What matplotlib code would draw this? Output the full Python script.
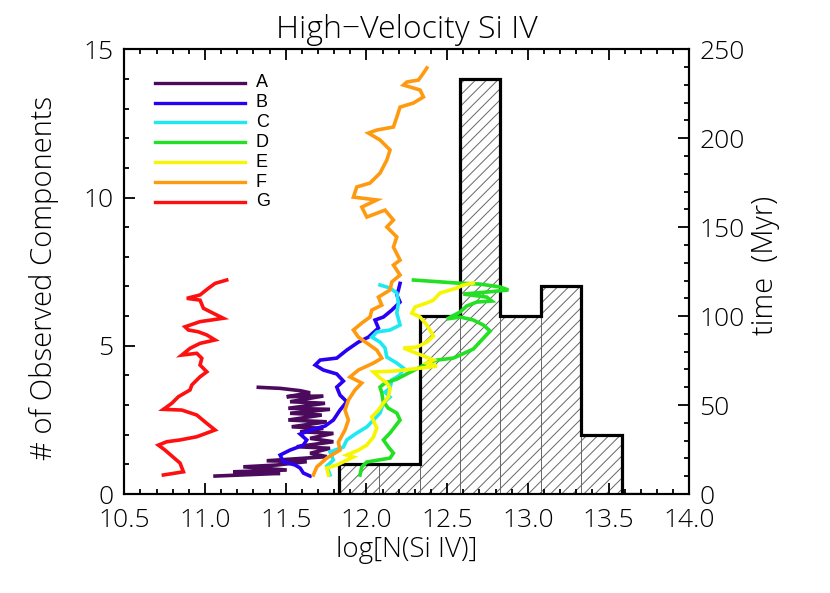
import matplotlib
matplotlib.use('Agg')
import matplotlib.pyplot as plt
from matplotlib.ticker import MultipleLocator, FormatStrFormatter
import numpy as np

# histogram of observed components
bin_edges = [11.83, 12.08, 12.33, 12.58, 12.83, 13.08, 13.33, 13.58]
counts = [1, 1, 6, 14, 6, 7, 2]

# model tracks: log N(Si IV) against time (Myr)
x_A = [11.062, 11.465, 11.175, 11.506, 11.237, 11.444, 11.630, 11.382, 11.754, 11.651,
       11.774, 11.568, 11.795, 11.651, 11.795, 11.589, 11.733, 11.537, 11.754, 11.516,
       11.723, 11.527, 11.774, 11.516, 11.743, 11.527, 11.733, 11.506, 11.651, 11.589,
       11.465, 11.330]
t_A = [10.1, 11.6, 12.5, 13.5, 15.3, 16.3, 18.2, 18.7, 21.0, 22.9,
       25.7, 26.6, 29.4, 31.3, 34.1, 35.0, 36.9, 37.8, 40.6, 41.6,
       44.4, 45.4, 47.6, 48.2, 51.0, 51.9, 55.1, 54.7, 56.9, 58.1,
       59.4, 60.0]

x_B = [11.651, 11.609, 11.589, 11.558, 11.485, 11.465, 11.527, 11.609, 11.630, 11.589,
       11.671, 11.743, 11.795, 11.836, 11.878, 11.836, 11.816, 11.857, 11.816, 11.733,
       11.682, 11.713, 11.816, 11.878, 11.950, 12.012, 12.074, 12.053, 12.105, 12.157,
       12.208, 12.188, 12.198, 12.208]
t_B = [10.1, 11.8, 14.6, 16.3, 18.2, 21.9, 24.7, 27.5, 30.4, 33.7,
       36.5, 38.2, 41.6, 47.2, 51.9, 55.6, 60.1, 63.5, 67.5, 69.7,
       72.5, 75.3, 76.4, 80.9, 85.4, 88.2, 93.3, 97.8, 99.5, 103.4,
       107.9, 111.9, 114.7, 118.4]

x_C = [11.774, 11.754, 11.795, 11.774, 11.857, 11.878, 11.940, 12.002, 12.043, 12.084,
       12.105, 12.146, 12.115, 12.146, 12.157, 12.208, 12.229, 12.188, 12.126, 12.115,
       12.084, 12.033, 12.064, 12.146, 12.208, 12.188, 12.198, 12.188, 12.146, 12.084]
t_C = [10.7, 15.7, 19.1, 23.6, 26.4, 30.4, 34.3, 37.7, 41.6, 45.5,
       51.2, 54.5, 57.3, 59.6, 64.1, 66.9, 70.8, 73.6, 77.0, 82.1,
       85.4, 88.2, 91.1, 92.2, 95.0, 101.7, 107.4, 113.0, 115.8, 117.5]

x_D = [11.960, 11.971, 12.002, 12.146, 12.167, 12.136, 12.105, 12.146, 12.208, 12.188,
       12.134, 12.103, 12.095, 12.084, 12.115, 12.188, 12.260, 12.322, 12.374, 12.436,
       12.538, 12.662, 12.714, 12.766, 12.724, 12.662, 12.580, 12.498, 12.580, 12.621,
       12.683, 12.776, 12.745, 12.600, 12.766, 12.879, 12.828, 12.704, 12.560, 12.291]
t_D = [10.7, 15.2, 18.0, 20.2, 23.0, 26.4, 30.4, 34.3, 41.6, 45.5,
       48.3, 52.3, 56.8, 60.1, 62.4, 64.6, 68.0, 70.8, 73.6, 75.3,
       76.4, 81.5, 86.6, 91.6, 95.0, 97.8, 99.5, 98.4, 102.3, 105.7,
       107.9, 108.5, 110.7, 112.4, 113.7, 114.7, 116.4, 118.0, 118.6, 120.3]

x_E = [11.764, 11.754, 11.816, 11.919, 11.878, 11.950, 12.002, 12.043, 12.064, 12.033,
       12.074, 12.105, 12.136, 12.146, 12.126, 12.084, 12.043, 12.167, 12.291, 12.436,
       12.374, 12.415, 12.353, 12.291, 12.229, 12.312, 12.374, 12.415, 12.374, 12.332,
       12.281, 12.301, 12.374, 12.415, 12.456, 12.560, 12.600, 12.662]
t_E = [10.7, 14.6, 16.3, 20.8, 21.9, 24.7, 27.5, 32.0, 37.1, 43.3,
       47.2, 51.2, 54.5, 59.6, 62.4, 65.2, 68.6, 69.1, 70.3, 71.9,
       73.6, 75.3, 77.6, 79.8, 82.1, 82.6, 85.4, 88.8, 95.0, 99.5,
       101.7, 105.1, 107.4, 109.0, 113.0, 115.8, 117.5, 118.6]

x_F = [11.671, 11.692, 11.754, 11.836, 11.826, 11.867, 11.888, 11.867, 11.888, 11.929,
       11.971, 11.898, 11.950, 12.043, 12.095, 12.064, 12.002, 11.950, 11.919, 11.971,
       12.022, 12.033, 12.095, 12.074, 12.146, 12.157, 12.208, 12.167, 12.208, 12.167,
       12.188, 12.126, 12.167, 12.115, 12.002, 11.971, 12.064, 11.919, 11.940, 12.022,
       12.084, 12.126, 12.146, 12.084, 12.012, 12.064, 12.167, 12.188, 12.208, 12.291,
       12.353, 12.332, 12.229, 12.250, 12.322, 12.353, 12.374]
t_F = [10.7, 15.2, 20.2, 24.7, 29.2, 36.0, 41.6, 47.2, 52.8, 58.5,
       62.4, 65.8, 69.7, 73.6, 76.4, 80.9, 84.9, 88.2, 92.2, 96.1,
       99.5, 103.4, 106.2, 110.7, 114.7, 119.2, 123.1, 128.7, 131.5, 138.8,
       144.5, 150.1, 154.0, 159.6, 155.7, 161.3, 165.3, 166.9, 172.6, 174.8,
       180.4, 187.7, 193.4, 199.0, 202.9, 204.6, 206.3, 211.9, 217.5, 219.8,
       223.2, 227.1, 229.9, 231.6, 232.7, 236.6, 239.5]

x_G = [10.742, 10.866, 10.845, 10.794, 10.752, 10.711, 10.763, 10.845, 10.949, 11.062,
       11.011, 10.949, 10.856, 10.742, 10.794, 10.835, 10.907, 10.918, 10.969, 11.011,
       10.969, 10.980, 10.949, 10.856, 10.907, 10.969, 11.062, 11.011, 10.958, 10.897,
       10.876, 10.969, 11.113, 11.051, 10.990, 10.969, 10.887, 10.969, 11.020, 11.062,
       11.134]
t_G = [10.7, 12.5, 17.4, 21.4, 24.7, 27.5, 29.4, 30.4, 32.2, 36.0,
       39.7, 44.4, 47.2, 47.6, 51.0, 54.7, 58.5, 61.3, 65.9, 68.7,
       72.5, 76.3, 79.1, 78.1, 81.9, 84.7, 86.6, 89.4, 91.2, 92.2,
       94.0, 96.9, 98.8, 101.6, 104.4, 109.0, 110.0, 111.9, 115.6, 118.4,
       120.3]

labels = ['A', 'B', 'C', 'D', 'E', 'F', 'G']
colors = ['#4b0a5c', '#2a00f5', '#1ee8f2', '#22e022', '#f6f600', '#ff9a10', '#ff1010']
tracks = [(x_A, t_A), (x_B, t_B), (x_C, t_C), (x_D, t_D),
          (x_E, t_E), (x_F, t_F), (x_G, t_G)]

plt.rcParams['font.family'] = ['Open Sans', 'DejaVu Sans']
plt.rcParams['font.weight'] = 'light'
plt.rcParams['axes.titleweight'] = 'light'
plt.rcParams['axes.labelweight'] = 'light'
plt.rcParams['hatch.linewidth'] = 0.7

fig = plt.figure(figsize=(8.3, 5.93), dpi=100)
ax = fig.add_axes([0.1498, 0.1669, 0.6807, 0.75])

edges = np.array(bin_edges)
widths = np.diff(edges)
ax.bar(edges[:-1], counts, width=widths, align='edge', fill=False,
       hatch='///', edgecolor='#666666', linewidth=0.6)
# outline, with the empty half bins at either end
half = widths[0] / 2
step_edges = np.concatenate([[edges[0] - half], edges, [edges[-1] + half]])
step_vals = np.concatenate([[0], counts, [0]])
ax.stairs(step_vals, step_edges, baseline=None, color='black', linewidth=2.3)

ax.set_xlim(10.5, 14.0)
ax.set_ylim(0, 15)
ax.xaxis.set_major_locator(MultipleLocator(0.5))
ax.xaxis.set_minor_locator(MultipleLocator(0.1))
ax.xaxis.set_major_formatter(FormatStrFormatter('%.1f'))
ax.yaxis.set_major_locator(MultipleLocator(5))
ax.yaxis.set_minor_locator(MultipleLocator(1))
ax.tick_params(which='both', direction='in', top=True, right=False, width=1.3)
ax.tick_params(which='major', length=8)
ax.tick_params(which='minor', length=3.8)
ax.tick_params(axis='x', which='major', pad=10, labelsize=19)
ax.tick_params(axis='y', which='major', pad=8, labelsize=19)
for s in ax.spines.values():
    s.set_linewidth(1.5)

ax.set_title('High\u2212Velocity Si IV', fontsize=23, pad=8)
ax.set_xlabel('log[N(Si IV)]', fontsize=20)
ax.xaxis.set_label_coords(0.5, -0.094)
ax.set_ylabel('# of Observed Components', fontsize=21)
ax.yaxis.set_label_coords(-0.115, 0.485)

ax2 = ax.twinx()
ax2.set_ylim(0, 250)
ax2.yaxis.set_major_locator(MultipleLocator(50))
ax2.yaxis.set_minor_locator(MultipleLocator(10))
ax2.tick_params(which='both', direction='in', width=1.3)
ax2.tick_params(which='major', length=8, pad=7, labelsize=19)
ax2.tick_params(which='minor', length=3.8)
ax2.set_ylabel('time  (Myr)', fontsize=21)
ax2.yaxis.set_label_coords(1.108, 0.515)
for s in ax2.spines.values():
    s.set_linewidth(1.5)

for (xs, ts), c in zip(tracks, colors):
    ax2.plot(xs, ts, color=c, linewidth=2.6, solid_joinstyle='miter')

# legend drawn by hand at the top left
for i, (lab, c) in enumerate(zip(labels, colors)):
    yy = 0.925 - i * 0.0447
    ax2.plot([0.054, 0.214], [yy, yy], color=c, linewidth=2.4,
             transform=ax2.transAxes)
    ax2.text(0.233, yy, lab, transform=ax2.transAxes, fontsize=13,
             family='Liberation Sans', weight='normal', va='center', ha='left')

fig.savefig('out.png', dpi=100)
